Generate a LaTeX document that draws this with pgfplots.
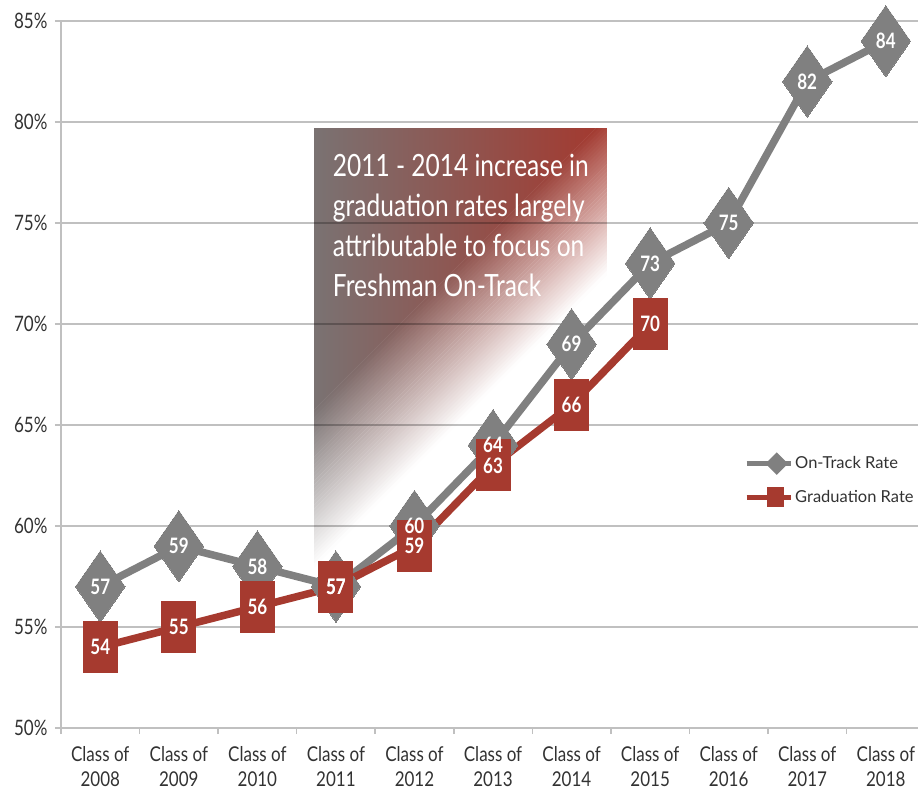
\documentclass[border=0pt]{standalone}
\usepackage{pgfplots}
\pgfplotsset{compat=1.18}
\usepackage{fontspec}
\setmainfont{Lato}
\usetikzlibrary{fadings}
\definecolor{mygray}{RGB}{128,128,128}
\definecolor{myred}{RGB}{166,58,47}
\definecolor{gridc}{RGB}{192,192,192}
\definecolor{txt}{RGB}{50,50,50}
\definecolor{shgray}{RGB}{122,114,114}
\definecolor{shred}{RGB}{164,56,46}

\begin{tikzfadingfrompicture}[name=diagfade]
\path[use as bounding box] (-600bp,-600bp) rectangle (600bp,600bp);
\fill[transparent!100] (-600bp,-600bp) rectangle (600bp,600bp);
\begin{scope}[rotate=45]
\fill[transparent!0] (-900bp,46bp) rectangle (900bp,900bp);
\foreach \i in {0,...,39} {
  \pgfmathsetmacro{\tp}{2.5*(\i+0.5)}
  \pgfmathsetmacro{\ya}{46-2.8*\i+0.3}
  \pgfmathsetmacro{\yb}{46-2.8*(\i+1)}
  \fill[transparent!\tp] (-900bp,\ya bp) rectangle (900bp,\yb bp);
}
\end{scope}
\end{tikzfadingfrompicture}

\begin{document}
\begin{tikzpicture}
\begin{axis}[
  scale only axis, width=857bp, height=707bp,
  xmin=-0.5, xmax=10.41, ymin=50, ymax=85,
  axis x line*=bottom, axis y line*=left,
  axis line style={gridc, line width=2bp},
  ytick={50,55,60,65,70,75,80,85},
  yticklabels={50\%,55\%,60\%,65\%,70\%,75\%,80\%,85\%},
  ymajorgrids, grid style={gridc, line width=2bp},
  xtick={-0.5,0.5,1.5,2.5,3.5,4.5,5.5,6.5,7.5,8.5,9.5},
  xticklabels={},
  extra x ticks={0,1,2,3,4,5,6,7,8,9,10},
  extra x tick labels={Class of\\2008,Class of\\2009,Class of\\2010,Class of\\2011,Class of\\2012,Class of\\2013,Class of\\2014,Class of\\2015,Class of\\2016,Class of\\2017,Class of\\2018},
  extra x tick style={major tick length=0pt, grid=none},
  tick align=outside, major tick length=6bp,
  tick style={gridc, line width=1.5bp},
  xticklabel style={align=center, text=txt, font=\fontsize{17bp}{21bp}\selectfont, yscale=1.2, yshift=-12bp},
  yticklabel style={text=txt, font=\fontsize{17bp}{20bp}\selectfont, yscale=1.25, xshift=-4bp},
  legend style={at={(axis description cs:0.797,0.388)}, anchor=north west, draw=none, fill=none,
    font=\fontsize{16.5bp}{20bp}\selectfont, text=txt, row sep=14bp, inner sep=0pt, cells={anchor=west}},
  clip=false,
]
\coordinate (bl) at (rel axis cs:0,0);
\shade[path fading=diagfade, fit fading=false, left color=shgray, right color=shred, blend mode=multiply]
  (axis cs:2.73,80) rectangle (axis cs:6.45,55);
\node[anchor=north west, align=left, text=white, font=\fontsize{24.5bp}{32bp}\selectfont, yscale=1.25, inner sep=0pt]
  at (axis cs:2.96,78.4) {2011 - 2014 increase in\\graduation rates largely\\attributable to focus on\\Freshman On-Track};

\addplot[mygray, line width=7.5bp, mark=diamond*, mark size=33bp, mark options={yscale=1.08, line width=0pt},
  legend image code/.code={\draw[mygray, line width=5bp] (0bp,0bp) -- (44bp,0bp);
    \fill[mygray] (30bp,6bp) -- (36bp,0bp) -- (30bp,-6bp) -- (24bp,0bp) -- cycle;}]
  coordinates {(0,57) (1,59) (2,58) (3,57) (4,60) (5,64) (6,69) (7,73) (8,75) (9,82) (10,84)};
\addlegendentry{On-Track Rate}
\addplot[myred, line width=7.5bp, mark=square*, mark size=17bp, mark options={yscale=1.5, line width=0pt},
  legend image code/.code={\draw[myred, line width=5bp] (0bp,0bp) -- (44bp,0bp);
    \fill[myred] (24bp,6bp) rectangle (34bp,-6bp);}]
  coordinates {(0,54) (1,55) (2,56) (3,57) (4,59) (5,63) (6,66) (7,70)};
\addlegendentry{Graduation Rate}

\addplot[draw=none, mark=none, forget plot, point meta=explicit symbolic, nodes near coords,
  every node near coord/.append style={anchor=center, text=white, font=\bfseries\fontsize{17bp}{17bp}\selectfont, yscale=1.25, inner sep=0pt}]
  coordinates {(0,57) [57] (1,59) [59] (2,58) [58] (3,57) [57] (4,60) [60] (5,64) [64] (6,69) [69] (7,73) [73] (8,75) [75] (9,82) [82] (10,84) [84]};
\addplot[draw=none, mark=none, forget plot, point meta=explicit symbolic, nodes near coords,
  every node near coord/.append style={anchor=center, text=white, font=\bfseries\fontsize{17bp}{17bp}\selectfont, yscale=1.25, inner sep=0pt}]
  coordinates {(0,54) [54] (1,55) [55] (2,56) [56] (3,57) [57] (4,59) [59] (5,63) [63] (6,66) [66] (7,70) [70]};
\end{axis}
\pgfresetboundingbox
\path[use as bounding box] (bl) ++(-61bp,-63bp) rectangle ++(918bp,791bp);
\end{tikzpicture}
\end{document}
